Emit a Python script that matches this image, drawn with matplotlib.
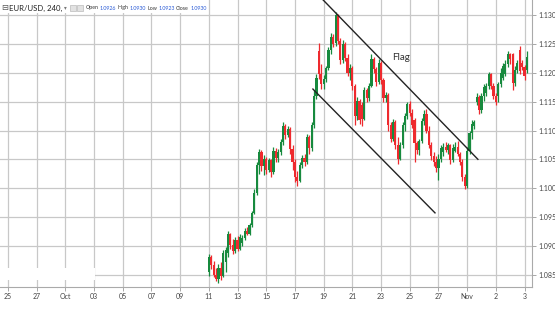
import numpy as np
import matplotlib
matplotlib.use("Agg")
import matplotlib.pyplot as plt
from matplotlib.patches import Rectangle

# 4h candles, EUR/USD, starting on the 11th
opens = [1.0855, 1.0880, 1.0866, 1.0850, 1.0842, 1.0862, 1.0848, 1.0872, 1.0888, 1.0920,
         1.0902, 1.0890, 1.0910, 1.0895, 1.0905, 1.0914, 1.0926, 1.0921, 1.0936, 1.0957,
         1.0992, 1.1040, 1.1062, 1.1038, 1.1050, 1.1032, 1.1048, 1.1028, 1.1065, 1.1052,
         1.1062, 1.1080, 1.1108, 1.1092, 1.1102, 1.1068, 1.1045, 1.1020, 1.1012, 1.1040,
         1.1052, 1.1045, 1.1088, 1.1070, 1.1110, 1.1160, 1.1238, 1.1198, 1.1180, 1.1190,
         1.1208, 1.1240, 1.1262, 1.1252, 1.1300, 1.1256, 1.1222, 1.1250, 1.1226, 1.1200,
         1.1208, 1.1178, 1.1125, 1.1152, 1.1145, 1.1120, 1.1170, 1.1156, 1.1178, 1.1225,
         1.1206, 1.1184, 1.1218, 1.1188, 1.1156, 1.1162, 1.1110, 1.1086, 1.1115, 1.1075,
         1.1050, 1.1075, 1.1110, 1.1125, 1.1146, 1.1130, 1.1118, 1.1078, 1.1066, 1.1082,
         1.1116, 1.1128, 1.1100, 1.1075, 1.1055, 1.1045, 1.1035, 1.1050, 1.1062, 1.1072,
         1.1066, 1.1074, 1.1048, 1.1064, 1.1072, 1.1060, 1.1046, 1.1020, 1.1004, 1.1065,
         1.1095, 1.1108, 1.1150, 1.1158, 1.1135, 1.1160, 1.1165, 1.1178, 1.1198, 1.1178,
         1.1160, 1.1160, 1.1180, 1.1192, 1.1198, 1.1215, 1.1232, 1.1232, 1.1182, 1.1205,
         1.1240, 1.1218, 1.1210, 1.1205]
highs = [1.0885, 1.0884, 1.0874, 1.0862, 1.0868, 1.0872, 1.0892, 1.0898, 1.0925, 1.0922,
         1.0912, 1.0915, 1.0916, 1.0920, 1.0918, 1.0930, 1.0932, 1.0940, 1.0960, 1.0998,
         1.1045, 1.1068, 1.1066, 1.1058, 1.1054, 1.1052, 1.1050, 1.1072, 1.1070, 1.1068,
         1.1085, 1.1114, 1.1112, 1.1108, 1.1106, 1.1075, 1.1050, 1.1030, 1.1045, 1.1058,
         1.1060, 1.1094, 1.1092, 1.1115, 1.1170, 1.1198, 1.1252, 1.1215, 1.1196, 1.1212,
         1.1245, 1.1270, 1.1268, 1.1305, 1.1302, 1.1260, 1.1258, 1.1254, 1.1232, 1.1215,
         1.1212, 1.1180, 1.1158, 1.1155, 1.1150, 1.1175, 1.1174, 1.1182, 1.1232, 1.1228,
         1.1210, 1.1225, 1.1220, 1.1192, 1.1166, 1.1165, 1.1115, 1.1120, 1.1118, 1.1088,
         1.1080, 1.1115, 1.1130, 1.1150, 1.1152, 1.1138, 1.1122, 1.1082, 1.1085, 1.1122,
         1.1135, 1.1138, 1.1108, 1.1080, 1.1062, 1.1055, 1.1060, 1.1075, 1.1078, 1.1080,
         1.1078, 1.1076, 1.1076, 1.1080, 1.1082, 1.1063, 1.1050, 1.1025, 1.1072, 1.1100,
         1.1118, 1.1118, 1.1165, 1.1162, 1.1165, 1.1180, 1.1182, 1.1202, 1.1200, 1.1182,
         1.1165, 1.1185, 1.1208, 1.1218, 1.1222, 1.1238, 1.1235, 1.1235, 1.1212, 1.1222,
         1.1246, 1.1222, 1.1214, 1.1238]
lows = [1.0848, 1.0860, 1.0845, 1.0838, 1.0836, 1.0840, 1.0845, 1.0855, 1.0880, 1.0895,
        1.0885, 1.0888, 1.0890, 1.0892, 1.0900, 1.0910, 1.0918, 1.0919, 1.0932, 1.0955,
        1.0988, 1.1025, 1.1030, 1.1022, 1.1025, 1.1028, 1.1020, 1.1025, 1.1045, 1.1045,
        1.1058, 1.1075, 1.1085, 1.1088, 1.1060, 1.1032, 1.1010, 1.1003, 1.1010, 1.1035,
        1.1038, 1.1042, 1.1060, 1.1065, 1.1105, 1.1155, 1.1190, 1.1172, 1.1172, 1.1185,
        1.1205, 1.1232, 1.1245, 1.1246, 1.1250, 1.1215, 1.1218, 1.1220, 1.1195, 1.1188,
        1.1170, 1.1110, 1.1118, 1.1112, 1.1108, 1.1118, 1.1150, 1.1152, 1.1175, 1.1200,
        1.1178, 1.1180, 1.1180, 1.1150, 1.1150, 1.1100, 1.1080, 1.1082, 1.1068, 1.1042,
        1.1048, 1.1070, 1.1100, 1.1120, 1.1125, 1.1105, 1.1045, 1.1060, 1.1058, 1.1078,
        1.1110, 1.1095, 1.1070, 1.1048, 1.1038, 1.1028, 1.1014, 1.1045, 1.1055, 1.1062,
        1.1060, 1.1042, 1.1045, 1.1062, 1.1055, 1.1040, 1.1012, 1.0998, 1.1000, 1.1060,
        1.1085, 1.1102, 1.1145, 1.1128, 1.1130, 1.1152, 1.1160, 1.1172, 1.1172, 1.1155,
        1.1145, 1.1150, 1.1175, 1.1188, 1.1195, 1.1210, 1.1215, 1.1170, 1.1178, 1.1200,
        1.1198, 1.1205, 1.1188, 1.1200]
closes = [1.0880, 1.0866, 1.0850, 1.0842, 1.0862, 1.0848, 1.0888, 1.0893, 1.0920, 1.0902,
          1.0890, 1.0910, 1.0895, 1.0915, 1.0914, 1.0926, 1.0921, 1.0936, 1.0957, 1.0992,
          1.1040, 1.1062, 1.1038, 1.1050, 1.1032, 1.1048, 1.1028, 1.1065, 1.1052, 1.1062,
          1.1080, 1.1108, 1.1092, 1.1102, 1.1068, 1.1045, 1.1020, 1.1012, 1.1040, 1.1052,
          1.1045, 1.1088, 1.1070, 1.1110, 1.1160, 1.1192, 1.1198, 1.1180, 1.1190, 1.1208,
          1.1240, 1.1262, 1.1250, 1.1300, 1.1256, 1.1222, 1.1250, 1.1226, 1.1200, 1.1208,
          1.1178, 1.1125, 1.1152, 1.1118, 1.1120, 1.1170, 1.1156, 1.1178, 1.1225, 1.1206,
          1.1184, 1.1218, 1.1188, 1.1156, 1.1162, 1.1110, 1.1086, 1.1115, 1.1075, 1.1050,
          1.1075, 1.1110, 1.1125, 1.1146, 1.1130, 1.1110, 1.1078, 1.1066, 1.1082, 1.1116,
          1.1128, 1.1100, 1.1075, 1.1055, 1.1045, 1.1035, 1.1050, 1.1070, 1.1072, 1.1066,
          1.1074, 1.1048, 1.1070, 1.1072, 1.1060, 1.1046, 1.1020, 1.1004, 1.1065, 1.1095,
          1.1112, 1.1114, 1.1158, 1.1135, 1.1160, 1.1175, 1.1178, 1.1198, 1.1178, 1.1160,
          1.1150, 1.1180, 1.1200, 1.1212, 1.1215, 1.1232, 1.1225, 1.1182, 1.1205, 1.1218,
          1.1204, 1.1210, 1.1195, 1.1228]

day_labels = ['25', '27', 'Oct', '03', '05', '07', '09', '11', '13', '15',
              '17', '19', '21', '23', '25', '27', 'Nov', '2', '3']
price_ticks = [1.085, 1.090, 1.095, 1.100, 1.105, 1.110, 1.115, 1.120, 1.125, 1.130]

# flag channel (day index, price)
flag_top = [(21.95, 1.1327), (32.75, 1.1050)]
flag_bottom = [(21.25, 1.1172), (29.76, 1.0957)]

GREEN = '#178a3e'
RED = '#ee2a2e'
FONT = ['Lato', 'DejaVu Sans']

fig = plt.figure(figsize=(5.55, 3.12), dpi=100)
ax = fig.add_axes([0, 25 / 312, 532 / 555, 287 / 312])

o = np.array(opens); h = np.array(highs); l = np.array(lows); c = np.array(closes)
x = 14 + np.arange(len(o)) / 6.0
up = c >= o
cols = np.where(up, GREEN, RED)

ax.vlines(x, l, h, colors=cols, linewidth=0.9, zorder=3)
body_lo = np.minimum(o, c)
body_h = np.maximum(np.abs(c - o), 0.00008)
ax.bar(x, body_h, bottom=body_lo, width=0.15, color=cols, linewidth=0, zorder=4)

ax.plot([p[0] for p in flag_top], [p[1] for p in flag_top], color='#222222', lw=1.0, zorder=5)
ax.plot([p[0] for p in flag_bottom], [p[1] for p in flag_bottom], color='#222222', lw=1.0, zorder=5)
ax.text(27.39, 1.1226, 'Flag', fontsize=7, color='#333333', ha='center', va='center', family=FONT)

ax.set_xlim(-0.557, 36.52)
ax.set_ylim(1.08283, 1.13266)
ax.set_xticks(np.arange(0, 2 * len(day_labels), 2))
ax.set_xticklabels(day_labels, family=FONT)
ax.set_yticks(price_ticks)
ax.set_yticklabels(['%.3f' % p for p in price_ticks], family=FONT)
ax.yaxis.tick_right()
ax.tick_params(axis='both', labelsize=5, colors='#999999', labelcolor='#444444', length=3, width=0.6, pad=1.5)
ax.grid(True, color='#c8c8c8', linewidth=0.9, zorder=0)
ax.set_axisbelow(True)
for s in ['top', 'left']:
    ax.spines[s].set_visible(False)
for s in ['right', 'bottom']:
    ax.spines[s].set_color('#aaaaaa')
    ax.spines[s].set_linewidth(0.8)

# white patch over the bottom-left gridline
ax.add_patch(Rectangle((-0.557, 1.0841), 6.6, 0.0020, facecolor='white', edgecolor='none', zorder=2))

# header
W, H = 555.0, 312.0
fig.patches.append(Rectangle((0, 1 - 13 / H), 205 / W, 13 / H, transform=fig.transFigure,
                             facecolor='white', edgecolor='none', zorder=5))
ty = 1 - 8 / H
fig.text(1 / W, ty, '⊟', fontsize=6, color='#555555', va='center', zorder=6)
fig.text(9 / W, ty, 'EUR/USD, 240,', fontsize=5.6, color='#222222', va='center', zorder=6, family=FONT)
fig.text(64 / W, ty, '▾', fontsize=4, color='#777777', va='center', zorder=6)
for bx in [70, 77]:
    fig.patches.append(Rectangle((bx / W, 1 - 11 / H), 6 / W, 6 / H, transform=fig.transFigure,
                                 facecolor='#e2e2e2', edgecolor='#bbbbbb', linewidth=0.5, zorder=6))
hdr = [(86, 'Open', '#333333'), (100, '1.0926', '#2a5bd7'), (118, 'High', '#333333'),
       (130, '1.0930', '#2a5bd7'), (148, 'Low', '#333333'), (159, '1.0923', '#2a5bd7'),
       (176, 'Close', '#333333'), (191, '1.0930', '#2a5bd7')]
for px, t, col in hdr:
    fig.text(px / W, ty, t, fontsize=3.8, color=col, va='center', zorder=6, family=FONT)

fig.savefig('out.png', dpi=100)
